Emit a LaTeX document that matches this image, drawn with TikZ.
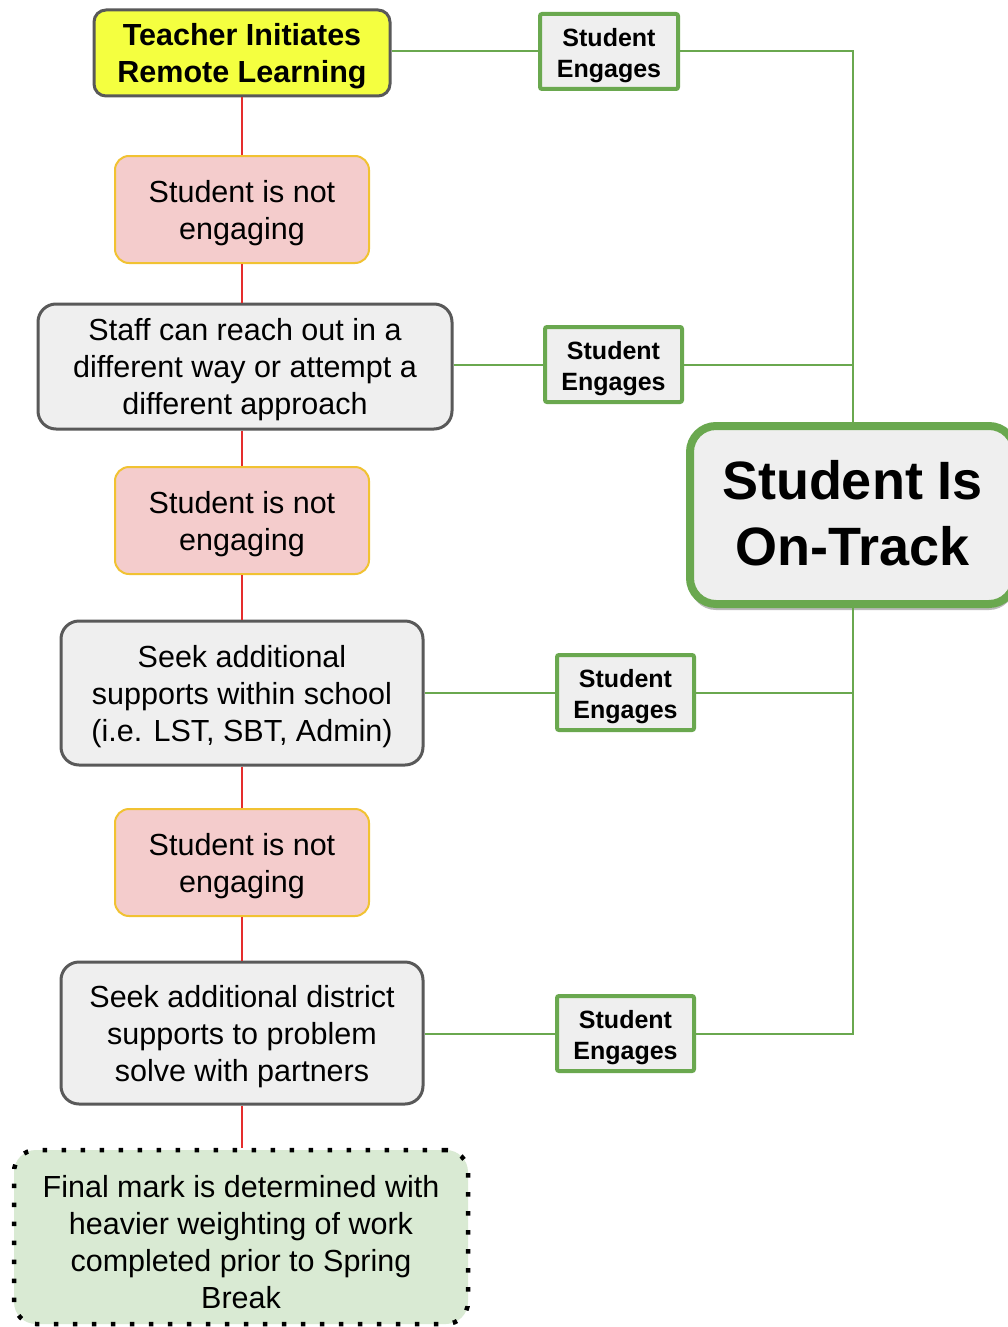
\documentclass[tikz,border=0pt]{standalone}
\usepackage{fontspec}
\setmainfont{Liberation Sans}
\usetikzlibrary{shadows}
\definecolor{tyellow}{RGB}{244,255,64}
\definecolor{darkgrayb}{RGB}{89,89,89}
\definecolor{lightfill}{RGB}{239,239,239}
\definecolor{pinkfill}{RGB}{244,204,204}
\definecolor{pinkborder}{RGB}{241,194,50}
\definecolor{sgreen}{RGB}{106,168,79}
\definecolor{finalfill}{RGB}{217,234,211}
\definecolor{redline}{RGB}{229,45,45}
\begin{document}
\begin{tikzpicture}[x=1pt,y=-1pt,
  base/.style={align=center, inner sep=0pt, text=black},
  regtext/.style={base, font=\fontsize{30.5}{37}\selectfont, yshift=-3.5pt},
  boldtext/.style={base, font=\fontsize{30.5}{37}\selectfont\bfseries, yshift=-3pt},
  engtext/.style={base, font=\fontsize{25}{31}\selectfont\bfseries, yshift=-4pt},
  tracktext/.style={base, font=\fontsize{54}{66}\selectfont\bfseries, yshift=2pt},
  startbox/.style={base, draw=darkgrayb, fill=tyellow, line width=3pt, rounded corners=12pt},
  notbox/.style={base, draw=pinkborder, fill=pinkfill, line width=2pt, rounded corners=14pt, minimum width=254pt, minimum height=107pt},
  actbox/.style={base, draw=darkgrayb, fill=lightfill, line width=3pt, rounded corners=18pt},
  engbox/.style={base, draw=sgreen, fill=lightfill, line width=4pt, rounded corners=2pt, minimum width=137pt, minimum height=75pt},
  trackbox/.style={base, draw=sgreen, fill=lightfill, line width=8pt, rounded corners=26pt, drop shadow={shadow xshift=0pt, shadow yshift=-6pt, opacity=0.45, fill=black!60}},
  finalbox/.style={base, draw=black, fill=finalfill, line width=4.5pt, dash pattern=on 4.5pt off 14.5pt, rounded corners=22pt},
  redcon/.style={draw=redline, line width=2pt},
  greencon/.style={draw=sgreen, line width=2pt}
]
\useasboundingbox (0,0) rectangle (1007,1327);
\fill[white] (0,0) rectangle (1007,1327);

% left column boxes
\node[startbox, minimum width=296pt, minimum height=86pt] (teach) at (242,53) {};
\node[notbox] (not1) at (242,209.5) {};
\node[actbox, minimum width=414pt, minimum height=125pt] (staff) at (245,366.5) {};
\node[notbox] (not2) at (242,520.5) {};
\node[actbox, minimum width=362pt, minimum height=144pt] (seek1) at (242,693) {};
\node[notbox] (not3) at (242,862.5) {};
\node[actbox, minimum width=362pt, minimum height=142pt] (seek2) at (242,1033) {};
\node[finalbox, minimum width=454pt, minimum height=174pt] (final) at (241,1237) {};

% engage boxes
\node[engbox, minimum width=138pt] (eng1) at (609,51.5) {};
\node[engbox] (eng2) at (613.5,364.5) {};
\node[engbox] (eng3) at (625.5,692.5) {};
\node[engbox] (eng4) at (625.5,1033.5) {};

% on track
\node[trackbox, minimum width=325pt, minimum height=178pt] (track) at (852.5,515) {};

% texts
\node[boldtext] (teachT) at (teach.center) {Teacher Initiates\\Remote Learning};
\node[regtext] (not1T) at (not1.center) {Student is not\\engaging};
\node[regtext] (staffT) at (staff.center) {Staff can reach out in a\\different way or attempt a\\different approach};
\node[regtext] (not2T) at (not2.center) {Student is not\\engaging};
\node[regtext] (seek1T) at (seek1.center) {Seek additional\\supports within school\\(i.e. LST, SBT, Admin)};
\node[regtext] (not3T) at (not3.center) {Student is not\\engaging};
\node[regtext] (seek2T) at (seek2.center) {Seek additional district\\supports to problem\\solve with partners};
\node[regtext, yshift=-1.5pt] (finalT) at (final.center) {Final mark is determined with\\heavier weighting of work\\completed prior to Spring\\Break};
\node[engtext] (eng1T) at (eng1.center) {Student\\Engages};
\node[engtext] (eng2T) at (eng2.center) {Student\\Engages};
\node[engtext] (eng3T) at (eng3.center) {Student\\Engages};
\node[engtext] (eng4T) at (eng4.center) {Student\\Engages};
\node[tracktext] (trackT) at (track.center) {Student Is\\On-Track};

% red connectors
\draw[redcon] (teach.south) -- (not1.north);
\draw[redcon] (not1.south) -- (not1.south |- staff.north);
\draw[redcon] (not1.south |- staff.south) -- (not2.north);
\draw[redcon] (not2.south) -- (seek1.north);
\draw[redcon] (seek1.south) -- (not3.north);
\draw[redcon] (not3.south) -- (seek2.north);
\draw[redcon] (seek2.south) -- (final.north -| seek2.south);

% green connectors
\draw[greencon] (teach.east |- eng1.west) -- (eng1.west);
\draw[greencon] (eng1.east) -- (eng1.east -| track.north) -- (track.north);
\draw[greencon] (staff.east |- eng2.west) -- (eng2.west);
\draw[greencon] (eng2.east) -- (eng2.east -| track.north);
\draw[greencon] (seek1.east |- eng3.west) -- (eng3.west);
\draw[greencon] (eng3.east) -- (eng3.east -| track.south);
\draw[greencon] (seek2.east |- eng4.west) -- (eng4.west);
\draw[greencon] (eng4.east) -- (eng4.east -| track.south) -- (track.south);
\end{tikzpicture}
\end{document}
